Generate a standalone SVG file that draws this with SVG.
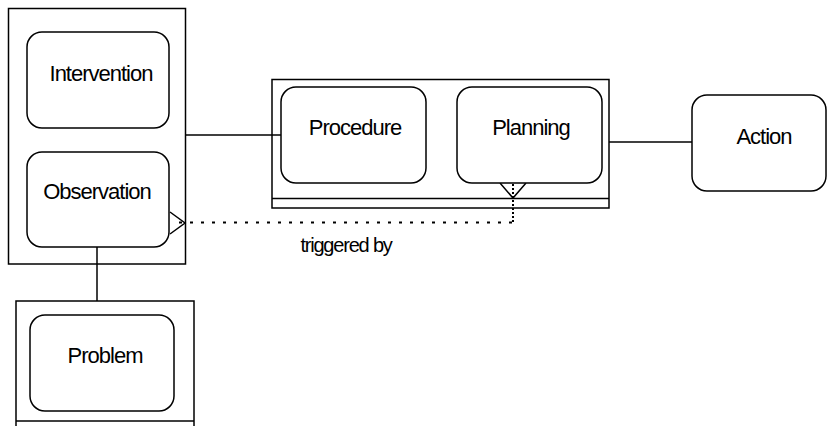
<svg xmlns="http://www.w3.org/2000/svg" width="828" height="426" viewBox="0 0 828 426">
<style>
.c{fill:#fff;stroke:#000;stroke-width:1.5}
.b{fill:#fff;stroke:#000;stroke-width:1.5}
.l{fill:none;stroke:#000;stroke-width:1.5}
.d{fill:none;stroke:#000;stroke-width:2}
.t{font-family:"Liberation Sans",Arial,sans-serif;font-size:22px;letter-spacing:-1px;text-anchor:middle;fill:#000}
.s{font-family:"Liberation Sans",Arial,sans-serif;font-size:20px;letter-spacing:-1.2px;text-anchor:middle;fill:#000}
</style>
<rect width="828" height="426" fill="#fff"/>
<g id="container-left">
<rect class="c" x="8.5" y="8.5" width="177" height="255.5"/>
</g>
<g id="container-middle">
<rect class="c" x="272" y="79.5" width="337" height="128.5"/>
<line class="l" x1="272" y1="198.5" x2="609" y2="198.5"/>
</g>
<g id="container-problem">
<rect class="c" x="16" y="301" width="178" height="140"/>
<line class="l" x1="16" y1="421" x2="194" y2="421"/>
</g>
<g id="connectors">
<line class="l" x1="186" y1="135" x2="281" y2="135"/>
<line class="l" x1="609" y1="142" x2="692" y2="142"/>
<line class="l" x1="97" y1="247" x2="97" y2="301"/>
<polyline class="l" points="500,183 513,198 526,183"/>
<polyline class="l" points="170,212 185,223 170,234"/>
<line class="d" x1="513" y1="184" x2="513" y2="222.5" stroke-dasharray="2 2"/>
<line class="d" x1="512" y1="222.5" x2="176" y2="222.5" stroke-dasharray="3 8"/>
<text class="s" x="346" y="252">triggered by</text>
</g>
<g id="intervention">
<rect class="b" x="27" y="32" width="142" height="96" rx="15"/>
<text class="t" x="101" y="81">Intervention</text>
</g>
<g id="observation">
<rect class="b" x="27" y="152" width="142" height="95" rx="15"/>
<text class="t" x="97" y="199">Observation</text>
</g>
<g id="procedure">
<rect class="b" x="281" y="87" width="145" height="96" rx="15"/>
<text class="t" x="355" y="135">Procedure</text>
</g>
<g id="planning">
<rect class="b" x="457" y="87" width="145" height="96" rx="15"/>
<text class="t" x="531" y="135">Planning</text>
</g>
<g id="problem">
<rect class="b" x="30" y="315" width="144" height="96" rx="15"/>
<text class="t" x="105" y="363">Problem</text>
</g>
<g id="action">
<rect class="b" x="692" y="95" width="134" height="96" rx="15"/>
<text class="t" x="764" y="144">Action</text>
</g>
</svg>
